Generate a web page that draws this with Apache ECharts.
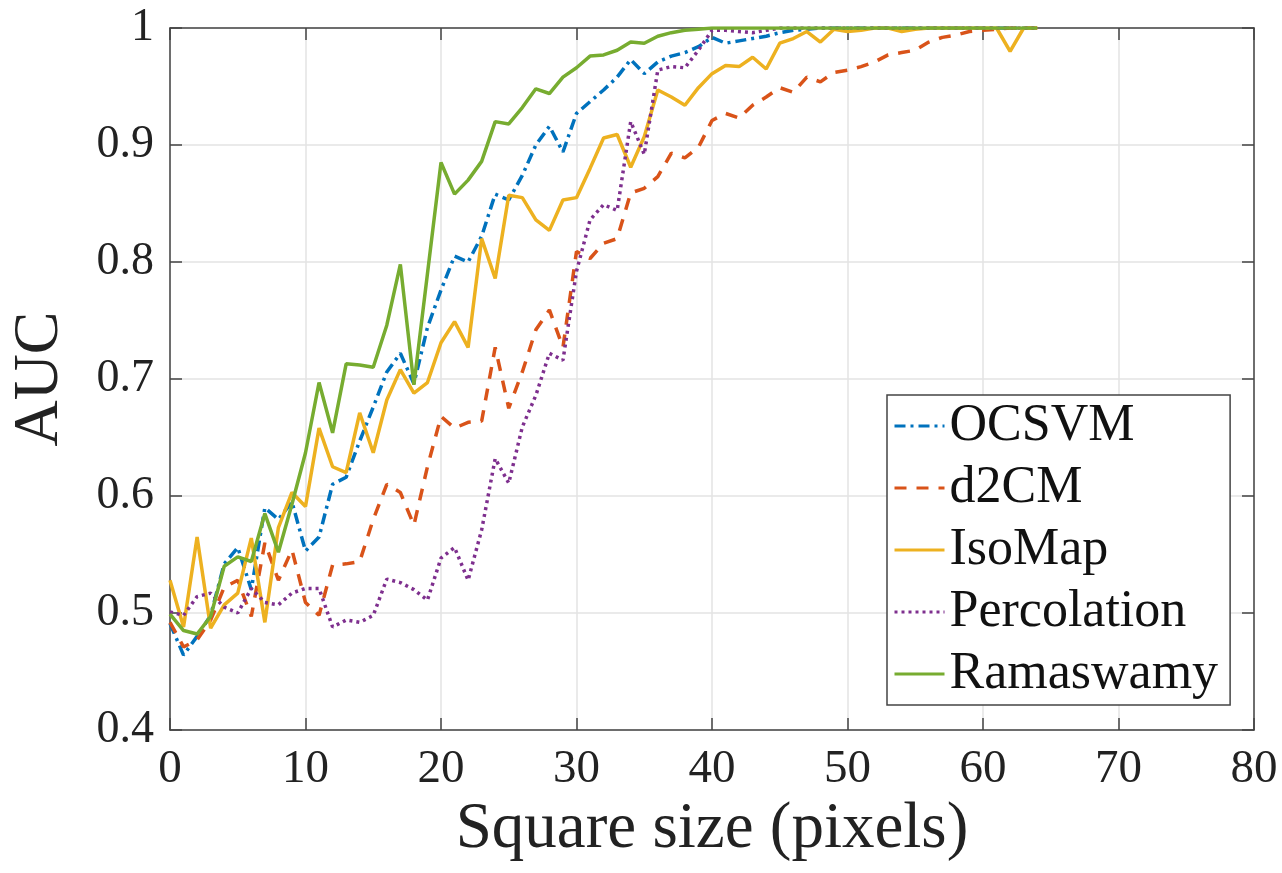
<!DOCTYPE html>
<html>
<head>
<meta charset="utf-8">
<script src="https://cdn.jsdelivr.net/npm/echarts@6/dist/echarts.min.js"></script>
<style>html,body{margin:0;padding:0;background:#fff;}#c{width:1282px;height:873px;}</style>
</head>
<body>
<div id="c"></div>
<script>
const xs = [0,1,2,3,4,5,6,7,8,9,10,11,12,13,14,15,16,17,18,19,20,21,22,23,24,25,26,27,28,29,30,31,32,33,34,35,36,37,38,39,40,41,42,43,44,45,46,47,48,49,50,51,52,53,54,55,56,57,58,59,60,61,62,63,64];
const seriesNames = ['OCSVM','d2CM','IsoMap','Percolation','Ramaswamy'];
const ocsvm = [0.491,0.464,0.48,0.498,0.542,0.556,0.52,0.59,0.58,0.595,0.553,0.565,0.61,0.616,0.647,0.676,0.706,0.722,0.696,0.744,0.776,0.805,0.80,0.822,0.858,0.853,0.874,0.90,0.916,0.894,0.927,0.937,0.947,0.958,0.973,0.961,0.971,0.976,0.979,0.984,0.992,0.987,0.989,0.991,0.993,0.996,0.998,0.999,1,1,1,1,1,1,1,1,1,1,1,1,1,1,1,1,1];
const d2cm = [0.492,0.471,0.477,0.494,0.522,0.528,0.497,0.56,0.528,0.554,0.509,0.498,0.541,0.542,0.544,0.58,0.61,0.603,0.575,0.625,0.668,0.658,0.663,0.664,0.727,0.675,0.706,0.742,0.759,0.727,0.809,0.803,0.816,0.82,0.859,0.863,0.873,0.893,0.889,0.898,0.921,0.927,0.923,0.934,0.941,0.949,0.945,0.958,0.954,0.962,0.964,0.967,0.971,0.977,0.979,0.981,0.988,0.992,0.994,0.997,0.998,0.999,1,1,1];
const isomap = [0.528,0.488,0.565,0.487,0.507,0.517,0.564,0.492,0.573,0.603,0.591,0.658,0.625,0.62,0.671,0.637,0.682,0.708,0.688,0.697,0.731,0.749,0.727,0.82,0.786,0.857,0.855,0.836,0.827,0.853,0.855,0.88,0.906,0.909,0.881,0.907,0.947,0.941,0.934,0.949,0.961,0.968,0.967,0.975,0.965,0.987,0.991,0.997,0.988,0.999,0.997,0.998,1,1,0.997,0.999,1,1,1,1,1,1,0.98,1,1];
const percolation = [0.501,0.498,0.514,0.517,0.505,0.50,0.521,0.509,0.507,0.517,0.521,0.521,0.488,0.494,0.492,0.498,0.529,0.526,0.52,0.511,0.547,0.556,0.528,0.571,0.632,0.611,0.659,0.686,0.722,0.716,0.792,0.836,0.849,0.844,0.92,0.892,0.964,0.967,0.966,0.981,0.998,0.998,0.997,0.996,0.998,1,1,1,1,1,1,1,1,1,1,1,1,1,1,1,1,1,1,1,1];
const ramaswamy = [0.499,0.485,0.482,0.497,0.54,0.548,0.544,0.585,0.552,0.593,0.637,0.697,0.654,0.713,0.712,0.71,0.746,0.798,0.695,0.79,0.885,0.858,0.87,0.886,0.92,0.918,0.932,0.948,0.944,0.958,0.966,0.976,0.977,0.981,0.988,0.987,0.993,0.996,0.998,0.999,1,1,1,1,1,1,1,1,1,1,1,1,1,1,1,1,1,1,1,1,1,1,1,1,1];
const xTickLabels = ['0','10','20','30','40','50','60','70','80'];
const yTickLabels = ['0.4','0.5','0.6','0.7','0.8','0.9','1'];
const xAxisTitle = 'Square size (pixels)';
const yAxisTitle = 'AUC';

const colors = ['#0072BD','#D95319','#EDB120','#7E2F8E','#77AC30'];
const dashes = [[11,5,3,5],[12,10],'solid',[3,4],'solid'];
const values = [ocsvm, d2cm, isomap, percolation, ramaswamy];
const FONT = "'Liberation Serif', 'Times New Roman', Times, 'DejaVu Serif', serif";
const AX = '#444444';

function pairs(arr){ return xs.map((x,i)=>[x,arr[i]]); }

const series = seriesNames.map((n,i)=>({
  name: n, type: 'line', data: pairs(values[i]), symbol: 'none',
  xAxisIndex: 0, yAxisIndex: 0,
  lineStyle: {color: colors[i], width: 3.5, type: dashes[i]},
  itemStyle: {color: colors[i]},
  emphasis: {disabled: true}, animation: false
}));

const chart = echarts.init(document.getElementById('c'));
chart.setOption({
  animation: false,
  backgroundColor: '#fff',
  grid: {left: 170, right: 28, top: 28, bottom: 143, containLabel: false},
  xAxis: [{
    type: 'value', min: 0, max: 80, interval: 10, position: 'bottom',
    name: xAxisTitle, nameLocation: 'middle', nameGap: 66,
    nameTextStyle: {fontFamily: FONT, fontSize: 65, color: '#222'},
    axisLine: {show: true, lineStyle: {color: AX, width: 1.5}},
    axisTick: {show: true, inside: true, length: 12, lineStyle: {color: AX, width: 1.5}},
    axisLabel: {fontFamily: FONT, fontSize: 47, color: '#222', margin: 16,
      formatter: v => xTickLabels[Math.round(v/10)]},
    splitLine: {show: true, lineStyle: {color: '#e3e3e3', width: 1.5}}
  },{
    type: 'value', min: 0, max: 80, interval: 10, position: 'top',
    axisLine: {show: true, onZero: false, lineStyle: {color: AX, width: 1.5}},
    axisTick: {show: true, inside: true, length: 12, lineStyle: {color: AX, width: 1.5}},
    axisLabel: {show: false}, splitLine: {show: false}
  }],
  yAxis: [{
    type: 'value', min: 0.4, max: 1, interval: 0.1, position: 'left',
    name: yAxisTitle, nameLocation: 'middle', nameGap: 98, nameRotate: 90,
    nameTextStyle: {fontFamily: FONT, fontSize: 64, color: '#222'},
    axisLine: {show: true, lineStyle: {color: AX, width: 1.5}},
    axisTick: {show: true, inside: true, length: 12, lineStyle: {color: AX, width: 1.5}},
    axisLabel: {fontFamily: FONT, fontSize: 46, color: '#222', margin: 16,
      formatter: v => yTickLabels[Math.round((v-0.4)*10)]},
    splitLine: {show: true, lineStyle: {color: '#e3e3e3', width: 1.5}}
  },{
    type: 'value', min: 0.4, max: 1, interval: 0.1, position: 'right',
    axisLine: {show: true, onZero: false, lineStyle: {color: AX, width: 1.5}},
    axisTick: {show: true, inside: true, length: 12, lineStyle: {color: AX, width: 1.5}},
    axisLabel: {show: false}, splitLine: {show: false}
  }],
  legend: {
    show: true, orient: 'vertical', left: 887, top: 395,
    data: seriesNames,
    backgroundColor: '#fff', borderColor: '#444', borderWidth: 1.5, borderRadius: 0,
    padding: [3, 12, 3, 6], itemGap: 6, itemWidth: 50, itemHeight: 20,
    itemStyle: {opacity: 0},
    lineStyle: {width: 3},
    textStyle: {fontFamily: FONT, fontSize: 52, color: '#111', lineHeight: 56, padding: [0,0,0,0]},
    selectedMode: false
  },
  series: series
});
</script>
</body>
</html>
